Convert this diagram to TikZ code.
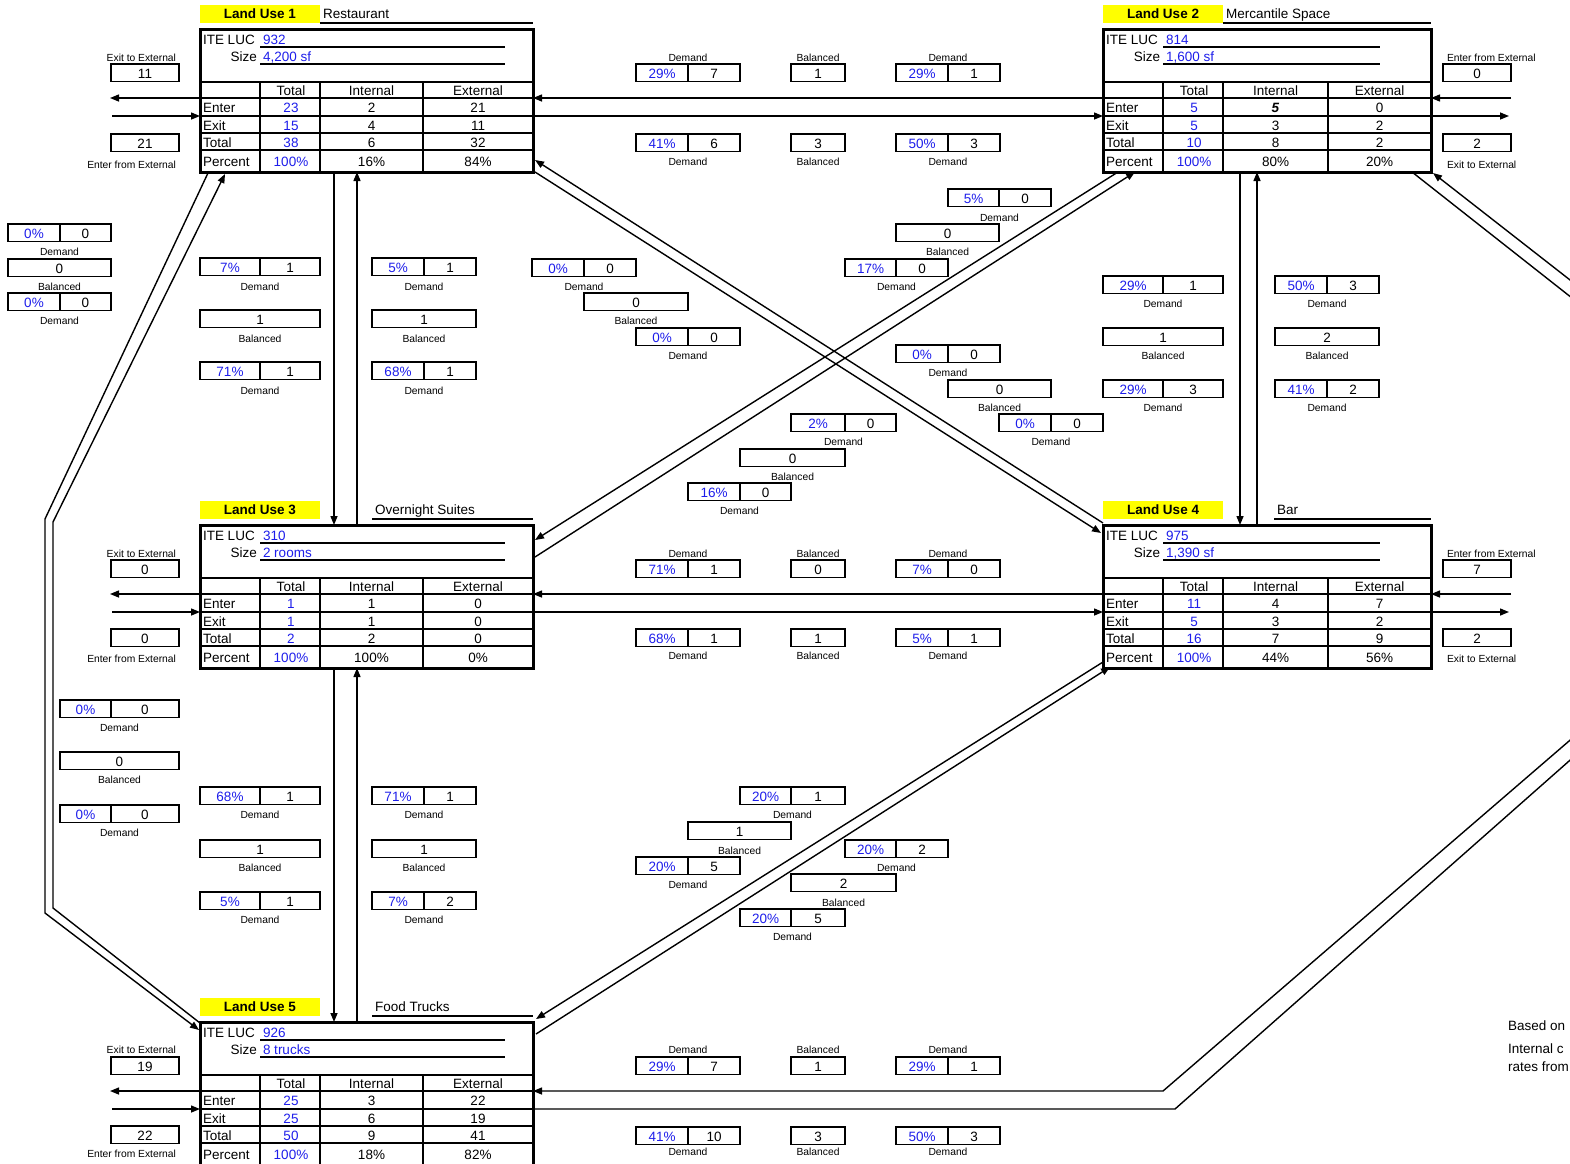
\documentclass[tikz,border=0pt]{standalone}
\usepackage{fontspec}
\setmainfont{Liberation Sans}
\usetikzlibrary{arrows.meta,calc}
\definecolor{lublue}{RGB}{30,30,235}
\definecolor{luyel}{RGB}{255,255,0}
\newcommand\fm{\fontsize{13.5}{16}\selectfont}
\newcommand\fsl{\fontsize{10.3}{12}\selectfont}
\tikzset{
 lubox/.style={draw, line width=3pt, inner sep=0, outer sep=0, anchor=north west, minimum height=143pt},
 lugrid/.style={line width=2pt},
 ul/.style={line width=2pt},
 tt/.style={font=\fm, inner sep=0, outer sep=0, text height=11.5pt, text depth=0pt},
 yel/.style={fill=luyel, inner sep=0, outer sep=0, anchor=north west, minimum width=120pt, minimum height=18pt, font=\fm\bfseries, text height=9.7pt, text depth=0pt},
 sb/.style={draw, line width=1.8pt, inner sep=0, outer sep=0, anchor=north west, minimum height=17.5pt, font=\fm, text height=11.3pt, text depth=0pt},
 lab/.style={font=\fsl, inner sep=0, outer sep=0},
 conn/.style={line width=1.4pt},
 arr/.style={conn, -{Triangle[length=9pt,width=7pt]}},
}
\newcommand\LUset[4]{\def\xo{#1}\def\yo{#2}\def\wid{#3}\def\cthree{#4}}
\newcommand\LUframe[7]{%
 \node[lubox, minimum width=\wid pt] (#1) at (\xo,\yo) {};
 \draw[lugrid] (\xo,{\yo+53}) -- ({\xo+\wid},{\yo+53});
 \foreach \dy in {69,87,104,121} {\draw[lugrid] (\xo,{\yo+\dy}) -- ({\xo+\wid},{\yo+\dy});}
 \foreach \dx in {60,120,\cthree} {\draw[lugrid] ({\xo+\dx},{\yo+53}) -- ({\xo+\dx},{\yo+143});}
 \node[yel] (#1h) at (\xo,{\yo-24}) {Land Use #2};
 \node[tt, anchor=west] (#1d) at ({#3+3},{\yo-16}) {#4};
 \draw[ul] (#3,{\yo-6}) -- ({\xo+\wid},{\yo-6});
 \node[tt, anchor=west] (#1l) at ({\xo+3},{\yo+10}) {ITE LUC};
 \node[tt, anchor=west, text=lublue] (#1lv) at ({\xo+63},{\yo+10}) {#5};
 \draw[ul] ({\xo+60},{\yo+18}) -- ({\xo+#7},{\yo+18});
 \node[tt, anchor=east] (#1s) at ({\xo+57},{\yo+27}) {Size};
 \node[tt, anchor=west, text=lublue] (#1sv) at ({\xo+63},{\yo+27}) {#6};
 \draw[ul] ({\xo+60},{\yo+35}) -- ({\xo+#7},{\yo+35});
 \node[tt] (#1ht) at ({\xo+91},{\yo+61}) {Total};
 \node[tt] (#1hi) at ({\xo+(120+\cthree)/2},{\yo+61}) {Internal};
 \node[tt] (#1he) at ({\xo+(\cthree+\wid)/2},{\yo+61}) {External};
}
\newcommand\LUrow[6]{%
 \node[tt, anchor=west] (#1r#2a) at ({\xo+3},{\yo+#2}) {#3};
 \node[tt, text=lublue] (#1r#2b) at ({\xo+91},{\yo+#2}) {#4};
 \node[tt] (#1r#2c) at ({\xo+(120+\cthree)/2},{\yo+#2}) {#5};
 \node[tt] (#1r#2d) at ({\xo+(\cthree+\wid)/2},{\yo+#2}) {#6};
}
\newcommand\ext[4]{\node[sb, minimum width=68pt] (#1) at (#2,#3) {#4};}
\newcommand\dm[8]{%
 \node[sb, minimum width=#4pt, text=lublue] (#1p) at (#2,#3) {#6};
 \node[sb, minimum width=#5pt] (#1v) at ({#2+#4},#3) {#7};
 \node[lab, anchor=base] (#1l) at ({#2+(#4+#5)/2},#8) {Demand};
}
\newcommand\bl[6]{%
 \node[sb, minimum width=#4pt] (#1) at (#2,#3) {#5};
 \node[lab, anchor=base] (#1l) at ({#2+#4/2},#6) {Balanced};
}
\begin{document}
\begin{tikzpicture}[x=1pt,y=-1pt]
\useasboundingbox (0,0) rectangle (1570,1163);
\clip (0,0) rectangle (1570,1163);
\fill[white] (0,0) rectangle (1570,1163);

% ---------- land use boxes
\LUset{200}{29}{333}{223}
\LUframe{lu1}{1}{320}{Restaurant}{932}{4,200 sf}{305}
\LUrow{lu1}{78}{Enter}{23}{2}{21}
\LUrow{lu1}{96}{Exit}{15}{4}{11}
\LUrow{lu1}{113}{Total}{38}{6}{32}
\LUrow{lu1}{132}{Percent}{100\%}{16\%}{84\%}

\LUset{1103}{29}{328}{225}
\LUframe{lu2}{2}{1223}{Mercantile Space}{814}{1,600 sf}{277}
\LUrow{lu2}{78}{Enter}{5}{\textbf{\textit{5}}}{0}
\LUrow{lu2}{96}{Exit}{5}{3}{2}
\LUrow{lu2}{113}{Total}{10}{8}{2}
\LUrow{lu2}{132}{Percent}{100\%}{80\%}{20\%}

\LUset{200}{525}{333}{223}
\LUframe{lu3}{3}{372}{Overnight Suites}{310}{2 rooms}{305}
\LUrow{lu3}{78}{Enter}{1}{1}{0}
\LUrow{lu3}{96}{Exit}{1}{1}{0}
\LUrow{lu3}{113}{Total}{2}{2}{0}
\LUrow{lu3}{132}{Percent}{100\%}{100\%}{0\%}

\LUset{1103}{525}{328}{225}
\LUframe{lu4}{4}{1274}{Bar}{975}{1,390 sf}{277}
\LUrow{lu4}{78}{Enter}{11}{4}{7}
\LUrow{lu4}{96}{Exit}{5}{3}{2}
\LUrow{lu4}{113}{Total}{16}{7}{9}
\LUrow{lu4}{132}{Percent}{100\%}{44\%}{56\%}

\LUset{200}{1022}{333}{223}
\LUframe{lu5}{5}{372}{Food Trucks}{926}{8 trucks}{305}
\LUrow{lu5}{78}{Enter}{25}{3}{22}
\LUrow{lu5}{96}{Exit}{25}{6}{19}
\LUrow{lu5}{113}{Total}{50}{9}{41}
\LUrow{lu5}{132}{Percent}{100\%}{18\%}{82\%}

% ---------- external boxes
\ext{x1o}{111}{64}{11}
\node[lab, anchor=base east] (x1ol) at (176,61) {Exit to External};
\ext{x1i}{111}{134}{21}
\node[lab, anchor=base east] (x1il) at (176,168) {Enter from External};
\ext{x2i}{1443}{64}{0}
\node[lab, anchor=base west] (x2il) at (1447,61) {Enter from External};
\ext{x2o}{1443}{134}{2}
\node[lab, anchor=base west] (x2ol) at (1447,168) {Exit to External};
\ext{x3o}{111}{560}{0}
\node[lab, anchor=base east] (x3ol) at (176,557) {Exit to External};
\ext{x3i}{111}{629}{0}
\node[lab, anchor=base east] (x3il) at (176,662) {Enter from External};
\ext{x4i}{1443}{560}{7}
\node[lab, anchor=base west] (x4il) at (1447,557) {Enter from External};
\ext{x4o}{1443}{629}{2}
\node[lab, anchor=base west] (x4ol) at (1447,662) {Exit to External};
\ext{x5o}{111}{1057}{19}
\node[lab, anchor=base east] (x5ol) at (176,1053) {Exit to External};
\ext{x5i}{111}{1126}{22}
\node[lab, anchor=base east] (x5il) at (176,1157) {Enter from External};

% external arrows
\coordinate (x1a) at (110,98);  \coordinate (x1b) at (112,116);
\coordinate (x3a) at (110,594); \coordinate (x3b) at (112,612);
\coordinate (x5a) at (110,1091); \coordinate (x5b) at (112,1109);
\coordinate (x2a) at (1511,98);  \coordinate (x2b) at (1509,116);
\coordinate (x4a) at (1511,594); \coordinate (x4b) at (1509,612);
\draw[arr] ([yshift=-69pt]lu1.north west) -- (x1a);
\draw[arr] (x1b) -- ([yshift=-87pt]lu1.north west);
\draw[arr] ([yshift=-69pt]lu3.north west) -- (x3a);
\draw[arr] (x3b) -- ([yshift=-87pt]lu3.north west);
\draw[arr] ([yshift=-69pt]lu5.north west) -- (x5a);
\draw[arr] (x5b) -- ([yshift=-87pt]lu5.north west);
\draw[arr] (x2a) -- ([yshift=-69pt]lu2.north east);
\draw[arr] ([yshift=-87pt]lu2.north east) -- (x2b);
\draw[arr] (x4a) -- ([yshift=-69pt]lu4.north east);
\draw[arr] ([yshift=-87pt]lu4.north east) -- (x4b);

% ---------- internal connectors
\draw[arr] ([yshift=-69pt]lu2.north west) -- ([yshift=-69pt]lu1.north east);
\draw[arr] ([yshift=-87pt]lu1.north east) -- ([yshift=-87pt]lu2.north west);
\draw[arr] ([yshift=-69pt]lu4.north west) -- ([yshift=-69pt]lu3.north east);
\draw[arr] ([yshift=-87pt]lu3.north east) -- ([yshift=-87pt]lu4.north west);

\draw[arr] ([xshift=134pt]lu1.south west) -- ([xshift=134pt]lu3.north west);
\draw[arr] ([xshift=157pt]lu3.north west) -- ([xshift=157pt]lu1.south west);
\draw[arr] ([xshift=134pt]lu3.south west) -- ([xshift=134pt]lu5.north west);
\draw[arr] ([xshift=157pt]lu5.north west) -- ([xshift=157pt]lu3.south west);
\draw[arr] ([xshift=137pt]lu2.south west) -- ([xshift=137pt]lu4.north west);
\draw[arr] ([xshift=154pt]lu4.north west) -- ([xshift=154pt]lu2.south west);

\coordinate (a14s) at (1103,523); \coordinate (a14e) at (535,160);
\coordinate (b14s) at (535,172);  \coordinate (b14e) at (1101,533);
\draw[arr] (a14s) -- (a14e);
\draw[arr] (b14s) -- (b14e);
\coordinate (e23s) at (1118,172); \coordinate (e23e) at (535,540);
\coordinate (f23s) at (535,557);  \coordinate (f23e) at (1135,172);
\draw[arr] (e23s) -- (e23e);
\draw[arr] (f23s) -- (f23e);
\coordinate (g45s) at (1103,662); \coordinate (g45e) at (536,1019);
\coordinate (h45s) at (536,1034); \coordinate (h45e) at (1110,667);
\draw[arr] (g45s) -- (g45e);
\draw[arr] (h45s) -- (h45e);

% left loop LU1 <-> LU5
\coordinate (lo1) at (208,173); \coordinate (lo5) at (199,1030);
\coordinate (li5) at (200,1023); \coordinate (li1) at (225,174);
\draw[arr] (lo1) -- (45,519) -- (45,913) -- (lo5);
\draw[arr] (li5) -- (53,908) -- (53,522) -- (li1);

% right loop LU5 <-> LU2 (runs off the page)
\coordinate (ro2) at (1433,173); \coordinate (ri2) at (1412,172);
\draw[arr] ([yshift=-87pt]lu5.north east) -- (1175,1109) -- (1620,716) -- (1620,319) -- (ro2);
\draw[arr] (ri2) -- (1605,324) -- (1605,710) -- (1163,1091) -- ([yshift=-69pt]lu5.north east);

% ---------- demand / balanced boxes
% LU1-LU2
\dm{p12a}{636}{64}{52}{52}{29\%}{7}{61}
\bl{p12b}{791}{64}{54}{1}{61}
\dm{p12c}{896}{64}{52}{52}{29\%}{1}{61}
\dm{p12d}{636}{134}{52}{52}{41\%}{6}{165}
\bl{p12e}{791}{134}{54}{3}{165}
\dm{p12f}{896}{134}{52}{52}{50\%}{3}{165}
% LU3-LU4
\dm{p34a}{636}{560}{52}{52}{71\%}{1}{557}
\bl{p34b}{791}{560}{54}{0}{557}
\dm{p34c}{896}{560}{52}{52}{7\%}{0}{557}
\dm{p34d}{636}{629}{52}{52}{68\%}{1}{659}
\bl{p34e}{791}{629}{54}{1}{659}
\dm{p34f}{896}{629}{52}{52}{5\%}{1}{659}
% LU5-LU2
\dm{p52a}{636}{1057}{52}{52}{29\%}{7}{1053}
\bl{p52b}{791}{1057}{54}{1}{1053}
\dm{p52c}{896}{1057}{52}{52}{29\%}{1}{1053}
\dm{p52d}{636}{1127}{52}{52}{41\%}{10}{1155}
\bl{p52e}{791}{1127}{54}{3}{1155}
\dm{p52f}{896}{1127}{52}{52}{50\%}{3}{1155}
% LU1-LU3
\dm{p13a}{200}{258}{60}{60}{7\%}{1}{290}
\bl{p13b}{200}{310}{120}{1}{342}
\dm{p13c}{200}{362}{60}{60}{71\%}{1}{394}
\dm{p13d}{372}{258}{52}{52}{5\%}{1}{290}
\bl{p13e}{372}{310}{104}{1}{342}
\dm{p13f}{372}{362}{52}{52}{68\%}{1}{394}
% LU3-LU5
\dm{p35a}{200}{787}{60}{60}{68\%}{1}{818}
\bl{p35b}{200}{840}{120}{1}{871}
\dm{p35c}{200}{892}{60}{60}{5\%}{1}{923}
\dm{p35d}{372}{787}{52}{52}{71\%}{1}{818}
\bl{p35e}{372}{840}{104}{1}{871}
\dm{p35f}{372}{892}{52}{52}{7\%}{2}{923}
% LU2-LU4
\dm{p24a}{1103}{276}{60}{60}{29\%}{1}{307}
\bl{p24b}{1103}{328}{120}{1}{359}
\dm{p24c}{1103}{380}{60}{60}{29\%}{3}{411}
\dm{p24d}{1275}{276}{52}{52}{50\%}{3}{307}
\bl{p24e}{1275}{328}{104}{2}{359}
\dm{p24f}{1275}{380}{52}{52}{41\%}{2}{411}
% LU1-LU5 (left)
\dm{p15a}{8}{224}{52}{51}{0\%}{0}{255}
\bl{p15b}{8}{259}{103}{0}{290}
\dm{p15c}{8}{293}{52}{51}{0\%}{0}{324}
\dm{p15d}{60}{700}{51}{68}{0\%}{0}{731}
\bl{p15e}{60}{752}{119}{0}{783}
\dm{p15f}{60}{805}{51}{68}{0\%}{0}{836}
% LU1-LU4
\dm{p14a}{532}{259}{52}{52}{0\%}{0}{290}
\bl{p14b}{584}{293}{104}{0}{324}
\dm{p14c}{636}{328}{52}{52}{0\%}{0}{359}
\dm{p14d}{896}{345}{52}{52}{0\%}{0}{376}
\bl{p14e}{948}{380}{103}{0}{411}
\dm{p14f}{999}{414}{52}{52}{0\%}{0}{445}
% LU2-LU3
\dm{p23a}{948}{189}{51}{52}{5\%}{0}{221}
\bl{p23b}{896}{224}{103}{0}{255}
\dm{p23c}{845}{259}{51}{52}{17\%}{0}{290}
\dm{p23d}{791}{414}{54}{51}{2\%}{0}{445}
\bl{p23e}{740}{449}{105}{0}{480}
\dm{p23f}{688}{483}{52}{51}{16\%}{0}{514}
% LU4-LU5
\dm{p45a}{740}{787}{51}{54}{20\%}{1}{818}
\bl{p45b}{688}{822}{103}{1}{854}
\dm{p45c}{636}{857}{52}{52}{20\%}{5}{888}
\dm{p45d}{845}{840}{51}{52}{20\%}{2}{871}
\bl{p45e}{791}{874}{105}{2}{906}
\dm{p45f}{740}{909}{51}{54}{20\%}{5}{940}

% ---------- note at right edge
\node[tt, anchor=west] (n1) at (1508,1025) {Based on};
\node[tt, anchor=west] (n2) at (1508,1048) {Internal c};
\node[tt, anchor=west] (n3) at (1508,1066) {rates from};
\end{tikzpicture}
\end{document}
